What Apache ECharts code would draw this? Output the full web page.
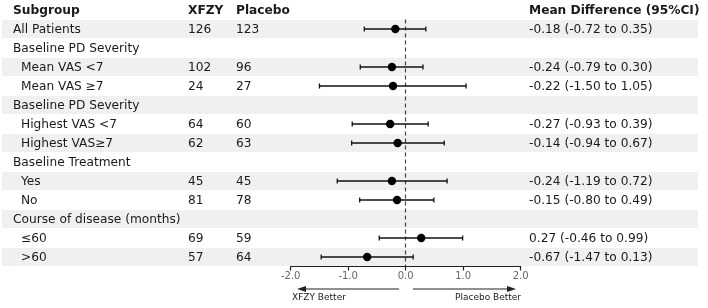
<!DOCTYPE html>
<html>
<head>
<meta charset="utf-8">
<script src="https://cdn.jsdelivr.net/npm/echarts@6/dist/echarts.min.js"></script>
<style>
  html, body { margin: 0; padding: 0; background: #fff; }
  #chart { width: 708px; height: 308px; }
</style>
</head>
<body>
<div id="chart"></div>
<script>
// rows top to bottom; null = section header row
const rowLabels = ['All Patients', 'Baseline PD Severity', 'Mean VAS <7', 'Mean VAS ≥7',
    'Baseline PD Severity', 'Highest VAS <7', 'Highest VAS≥7', 'Baseline Treatment',
    'Yes', 'No', 'Course of disease (months)', '≤60', '>60'];
const indented = [false, false, true, true, false, true, true, false, true, true, false, true, true];
const xfzyN    = [126, null, 102, 24, null, 64, 62, null, 45, 81, null, 69, 57];
const placeboN = [123, null, 96, 27, null, 60, 63, null, 45, 78, null, 59, 64];
const meanDiff = [-0.18, null, -0.24, -0.22, null, -0.27, -0.14, null, -0.24, -0.15, null, 0.27, -0.67];
const ciLow    = [-0.72, null, -0.79, -1.50, null, -0.93, -0.94, null, -1.19, -0.80, null, -0.46, -1.47];
const ciHigh   = [0.35, null, 0.30, 1.05, null, 0.39, 0.67, null, 0.72, 0.49, null, 0.99, 0.13];
const xTicks = [-2, -1, 0, 1, 2];

const FONT = 'DejaVu Sans';
const TXT = '#1a1a1a';
const FS = 12.2;

const chart = echarts.init(document.getElementById('chart'));

const fmt = v => v.toFixed(2);
const tableData = rowLabels.map((_, i) => [0, i]);
const forestData = [];
rowLabels.forEach((_, i) => {
    if (meanDiff[i] !== null) forestData.push([i, meanDiff[i], ciLow[i], ciHigh[i]]);
});

// table columns: stripes + text
function renderRow(params, api) {
    const i = api.value(1);
    const y = api.coord([0, i])[1];
    const h = api.size([0, 1])[1];
    const kids = [];
    if (i % 2 === 0) {
        kids.push({ type: 'rect', shape: { x: 2, y: y - h / 2 + 0.5, width: 696, height: h - 1 },
            style: { fill: '#eff1f0' } });
    }
    const txt = (x, s) => ({ type: 'text', x, y: y + 0.8,
        style: { text: s, fill: TXT, font: `${FS}px "${FONT}"`, verticalAlign: 'middle', align: 'left' } });
    kids.push(txt(indented[i] ? 21 : 13, rowLabels[i]));
    if (xfzyN[i] !== null) kids.push(txt(188, String(xfzyN[i])));
    if (placeboN[i] !== null) kids.push(txt(236, String(placeboN[i])));
    if (meanDiff[i] !== null) {
        kids.push(txt(529, `${fmt(meanDiff[i])} (${fmt(ciLow[i])} to ${fmt(ciHigh[i])})`));
    }
    return { type: 'group', children: kids };
}

function renderForest(params, api) {
    const y = api.coord([0, api.value(0)])[1];
    const xm = api.coord([api.value(1), 0])[0];
    const xl = api.coord([api.value(2), 0])[0];
    const xh = api.coord([api.value(3), 0])[0];
    const ls = { stroke: '#111', lineWidth: 1.3 };
    return {
        type: 'group',
        children: [
            { type: 'line', shape: { x1: xl, y1: y, x2: xh, y2: y }, style: ls },
            { type: 'line', shape: { x1: xl, y1: y - 2.5, x2: xl, y2: y + 2.5 }, style: ls },
            { type: 'line', shape: { x1: xh, y1: y - 2.5, x2: xh, y2: y + 2.5 }, style: ls },
            { type: 'circle', shape: { cx: xm, cy: y, r: 4.2 }, style: { fill: '#000' }, z2: 5 },
        ],
    };
}

const header = (x, s) => ({ type: 'text', left: x, top: 5,
    style: { text: s, fill: TXT, font: `bold ${FS}px "${FONT}"` } });

chart.setOption({
    animation: false,
    backgroundColor: '#fff',
    grid: [
        { left: 290.7, width: 230, top: 19.5, height: 247, containLabel: false },
        { left: 0, width: 708, top: 19.5, height: 247, containLabel: false },
    ],
    xAxis: [
        {
            gridIndex: 0, type: 'value', min: -2, max: 2, interval: 1,
            axisLine: { show: true, lineStyle: { color: '#222', width: 1.2 } },
            axisTick: { show: true, length: 4, lineStyle: { color: '#222', width: 1.2 } },
            axisLabel: { formatter: v => xTicks.includes(v) ? v.toFixed(1) : '', color: '#666',
                fontFamily: FONT, fontSize: 10, margin: 5 },
            splitLine: { show: false },
        },
        { gridIndex: 1, type: 'value', min: 0, max: 708, show: false },
    ],
    yAxis: [
        { gridIndex: 0, type: 'category', data: rowLabels.map((_, i) => i), inverse: true, show: false },
        { gridIndex: 1, type: 'category', data: rowLabels.map((_, i) => i), inverse: true, show: false },
    ],
    graphic: [
        header(13, 'Subgroup'),
        header(188, 'XFZY'),
        header(236, 'Placebo'),
        header(529, 'Mean Difference (95%CI)'),
        // direction arrows
        { type: 'line', shape: { x1: 304, y1: 289, x2: 399, y2: 289 }, style: { stroke: '#222', lineWidth: 1.2 } },
        { type: 'polygon', shape: { points: [[297, 289], [306, 286], [306, 292]] }, style: { fill: '#222' } },
        { type: 'line', shape: { x1: 413, y1: 289, x2: 509, y2: 289 }, style: { stroke: '#222', lineWidth: 1.2 } },
        { type: 'polygon', shape: { points: [[516, 289], [507, 286], [507, 292]] }, style: { fill: '#222' } },
        { type: 'text', left: 292, top: 293, style: { text: 'XFZY Better', fill: TXT, font: `9px "${FONT}"` } },
        { type: 'text', right: 187, top: 293, style: { text: 'Placebo Better', fill: TXT, font: `9px "${FONT}"` } },
    ],
    series: [
        {
            type: 'custom', xAxisIndex: 1, yAxisIndex: 1, data: tableData,
            renderItem: renderRow, z: 1, silent: true,
        },
        {
            type: 'custom', xAxisIndex: 0, yAxisIndex: 0, data: forestData,
            encode: { x: [1, 2, 3], y: 0 },
            renderItem: renderForest, z: 10, silent: true, clip: false,
            markLine: {
                silent: true, symbol: 'none', label: { show: false },
                lineStyle: { color: '#444', type: [4, 3], width: 1.2 },
                data: [{ xAxis: 0 }],
            },
        },
    ],
});
</script>
</body>
</html>
